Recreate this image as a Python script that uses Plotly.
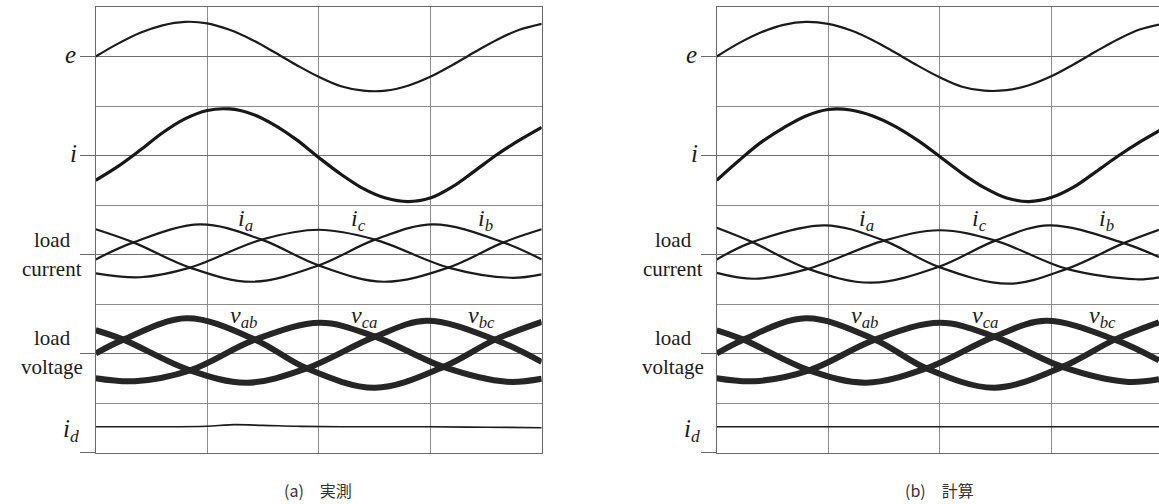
import plotly.graph_objects as go

# ---------------- data (x in grid divisions, y in grid divisions) ----------------
X_GRID = [0.0, 0.2, 0.4, 0.6, 0.8, 1.0, 1.2, 1.4, 1.6, 1.8, 2.0,
          2.2, 2.4, 2.6, 2.8, 3.0, 3.2, 3.4, 3.6, 3.8, 4.0]

# (a) measured
E_A = [0.0, 0.26, 0.48, 0.63, 0.70, 0.67, 0.54, 0.34, 0.09, -0.17, -0.41,
       -0.60, -0.69, -0.69, -0.59, -0.41, -0.17, 0.09, 0.34, 0.54, 0.66]
I_A = [-0.50, -0.22, 0.11, 0.46, 0.74, 0.91, 0.94, 0.84, 0.62, 0.32, -0.04,
       -0.38, -0.67, -0.86, -0.93, -0.86, -0.63, -0.31, 0.02, 0.31, 0.57]

IA_X_A = [0, 0.338, 0.94, 1.489, 2.00, 2.58, 3.163, 3.656, 4.0]
IA_Y_A = [-0.10, 0.245, 0.61, 0.30, -0.22, -0.55, -0.265, 0.245, 0.51]
IB_X_A = [0, 0.338, 0.846, 1.40, 2.00, 2.505, 3.03, 3.656, 4.0]
IB_Y_A = [0.51, 0.245, -0.265, -0.55, -0.22, 0.30, 0.61, 0.245, -0.10]
IC_X_A = [0, 0.40, 0.846, 1.489, 2.00, 2.505, 3.163, 3.72, 4.0]
IC_Y_A = [-0.38, -0.46, -0.265, 0.30, 0.50, 0.30, -0.265, -0.47, -0.40]

VAB_X_A = [0, 0.248, 0.816, 1.429, 1.892, 2.505, 3.118, 3.581, 4.0]
VAB_Y_A = [0.0, 0.28, 0.71, 0.28, -0.30, -0.69, -0.27, 0.28, 0.64]
VBC_X_A = [0, 0.248, 0.846, 1.354, 1.892, 2.505, 2.969, 3.581, 4.0]
VBC_Y_A = [0.47, 0.28, -0.34, -0.59, -0.30, 0.34, 0.66, 0.28, -0.17]
VCA_X_A = [0, 0.35, 0.846, 1.429, 2.012, 2.505, 3.118, 3.686, 4.0]
VCA_Y_A = [-0.50, -0.56, -0.34, 0.28, 0.62, 0.34, -0.27, -0.57, -0.51]

ID_X_A = [0, 0.5, 1.0, 1.2, 1.5, 1.8, 2.2, 3.0, 3.5, 4.0]
ID_Y_A = [0.52, 0.52, 0.53, 0.56, 0.55, 0.53, 0.52, 0.52, 0.51, 0.50]

# (b) calculated
E_B = [0.0, 0.27, 0.49, 0.64, 0.70, 0.66, 0.53, 0.33, 0.08, -0.18, -0.42,
       -0.61, -0.69, -0.68, -0.58, -0.40, -0.16, 0.10, 0.35, 0.55, 0.66]
I_B = [-0.50, -0.10, 0.27, 0.56, 0.80, 0.93, 0.92, 0.80, 0.59, 0.31, -0.02,
       -0.36, -0.65, -0.86, -0.93, -0.85, -0.64, -0.33, -0.01, 0.28, 0.54]

IA_X_B = [0, 0.32, 0.97, 1.50, 1.99, 2.62, 3.14, 3.65, 3.967]
IA_Y_B = [-0.10, 0.25, 0.59, 0.28, -0.25, -0.59, -0.29, 0.23, 0.50]
IB_X_B = [0, 0.32, 0.82, 1.39, 1.99, 2.50, 2.98, 3.65, 3.967]
IB_Y_B = [0.54, 0.25, -0.29, -0.57, -0.25, 0.28, 0.59, 0.23, -0.05]
IC_X_B = [0, 0.34, 0.82, 1.50, 2.00, 2.50, 3.14, 3.76, 3.967]
IC_Y_B = [-0.37, -0.49, -0.29, 0.28, 0.49, 0.28, -0.29, -0.50, -0.46]

VAB_X_B = [0, 0.24, 0.80, 1.42, 1.88, 2.49, 3.10, 3.57, 3.967]
VAB_Y_B = [0.0, 0.28, 0.71, 0.28, -0.30, -0.69, -0.27, 0.28, 0.63]
VBC_X_B = [0, 0.24, 0.83, 1.34, 1.88, 2.49, 2.95, 3.57, 3.967]
VBC_Y_B = [0.47, 0.28, -0.34, -0.59, -0.30, 0.34, 0.66, 0.28, -0.14]
VCA_X_B = [0, 0.34, 0.83, 1.42, 2.00, 2.49, 3.10, 3.67, 3.967]
VCA_Y_B = [-0.50, -0.56, -0.34, 0.28, 0.62, 0.34, -0.27, -0.57, -0.52]

ID_X_B = [0, 1.0, 2.0, 3.0, 3.967]
ID_Y_B = [0.52, 0.52, 0.52, 0.52, 0.52]

ROW_LABELS = ["e", "i", "load current", "load voltage", "i_d"]
CAPTIONS = ["(a)\u2003実測", "(b)\u2003計算"]

# ---------------- layout constants ----------------
W, H = 1159, 504
PX_DIV = 111.5          # px per horizontal division
LEFT_A, LEFT_B = 95.7, 716.7
TOP, BOTTOM = 7.0, 452.5
BASE = {"e": 8, "i": 6, "cur": 4, "volt": 2, "id": 0}
INK = "#1b1b1b"
GRID = "#8c8c8c"
FRAME = "#6a6a6a"
SERIF = "Liberation Serif"

fig = go.Figure()


def add(x, y, base, width, xa, ya, color=INK):
    fig.add_trace(go.Scatter(
        x=x, y=[v + base for v in y], mode="lines",
        line=dict(color=color, width=width, shape="spline", smoothing=1.0),
        xaxis=xa, yaxis=ya, hoverinfo="skip", showlegend=False))


panels = [
    ("x", "y", dict(E=E_A, I=I_A,
                    cur=[(IA_X_A, IA_Y_A), (IB_X_A, IB_Y_A), (IC_X_A, IC_Y_A)],
                    volt=[(VAB_X_A, VAB_Y_A), (VBC_X_A, VBC_Y_A), (VCA_X_A, VCA_Y_A)],
                    idd=(ID_X_A, ID_Y_A))),
    ("x2", "y2", dict(E=E_B, I=I_B,
                      cur=[(IA_X_B, IA_Y_B), (IB_X_B, IB_Y_B), (IC_X_B, IC_Y_B)],
                      volt=[(VAB_X_B, VAB_Y_B), (VBC_X_B, VBC_Y_B), (VCA_X_B, VCA_Y_B)],
                      idd=(ID_X_B, ID_Y_B))),
]

for xa, ya, d in panels:
    add(X_GRID, d["E"], BASE["e"], 2.2, xa, ya)
    add(X_GRID, d["I"], BASE["i"], 3.2, xa, ya, "#181818")
    for cx, cy in d["cur"]:
        add(cx, cy, BASE["cur"], 2.2, xa, ya)
    for vx, vy in d["volt"]:
        add(vx, vy, BASE["volt"], 6.0, xa, ya, "#262626")
    add(d["idd"][0], d["idd"][1], BASE["id"], 1.7, xa, ya)

# ---------------- axes ----------------
ydom = [1 - BOTTOM / H, 1 - TOP / H]


def xaxis(domain, rng, anchor):
    return dict(domain=domain, range=rng, anchor=anchor, showgrid=True, tick0=0, dtick=1,
                gridcolor=GRID, gridwidth=1, showline=True, mirror=True,
                linecolor=FRAME, linewidth=1, zeroline=False,
                showticklabels=False, ticks="", fixedrange=True)


def yaxis(anchor, mirror):
    return dict(domain=ydom, range=[0, 9], anchor=anchor,
                tickmode="array", tickvals=[0, 2, 4, 6, 8],
                ticks="outside", ticklen=15, tickcolor=FRAME, tickwidth=1,
                showticklabels=False, showgrid=True, gridcolor="#6f6f6f", gridwidth=1,
                minor=dict(tickmode="linear", tick0=0, dtick=1, showgrid=True,
                           gridcolor=GRID, gridwidth=1, ticks=""),
                showline=True, mirror=mirror, linecolor=FRAME, linewidth=1,
                zeroline=False, fixedrange=True)


rng_b = (W - LEFT_B) / PX_DIV
fig.update_layout(
    width=W, height=H, autosize=False,
    margin=dict(l=0, r=0, t=0, b=0, pad=0),
    paper_bgcolor="white", plot_bgcolor="white",
    font=dict(family=SERIF),
    xaxis=xaxis([LEFT_A / W, (LEFT_A + 4 * PX_DIV) / W], [0, 4], "y"),
    yaxis=yaxis("x", True),
    xaxis2=xaxis([LEFT_B / W, 1.0], [0, rng_b], "y2"),
    yaxis2=yaxis("x2", False),
)

# ---------------- labels (paper coordinates computed from panel geometry) ----------------
ann = []


def label(text, left, xdiv, ydiv, size, yanchor="middle"):
    px = (left + xdiv * PX_DIV) / W
    py = ydom[0] + ydiv / 9.0 * (ydom[1] - ydom[0])
    ann.append(dict(text=text, x=px, y=py, xref="paper", yref="paper", showarrow=False,
                    xanchor="center", yanchor=yanchor,
                    font=dict(family=SERIF, size=size, color=INK)))


for left in (LEFT_A, LEFT_B):
    label("<i>" + ROW_LABELS[0] + "</i>", left, -0.23, 8.05, 25)
    label("<i>" + ROW_LABELS[1] + "</i>", left, -0.20, 6.05, 25)
    label(ROW_LABELS[2].split()[0], left, -0.39, 4.02, 21, "bottom")
    label(ROW_LABELS[2].split()[1], left, -0.39, 4.0, 21, "top")
    label(ROW_LABELS[3].split()[0], left, -0.39, 2.04, 21, "bottom")
    label(ROW_LABELS[3].split()[1], left, -0.39, 2.02, 21, "top")
    label("<i>i</i><sub><i>d</i></sub>", left, -0.22, 0.45, 25)
    label("<i>i</i><sub><i>a</i></sub>", left, 1.34, 4.70, 24)
    label("<i>i</i><sub><i>c</i></sub>", left, 2.36, 4.70, 24)
    label("<i>i</i><sub><i>b</i></sub>", left, 3.50, 4.70, 24)
    label("<i>v</i><sub><i>ab</i></sub>", left, 1.33, 2.74, 24)
    label("<i>v</i><sub><i>ca</i></sub>", left, 2.41, 2.74, 24)
    label("<i>v</i><sub><i>bc</i></sub>", left, 3.46, 2.74, 24)

for cap, cx in zip(CAPTIONS, (318, 939)):
    ann.append(dict(text=cap, x=cx / W, y=1 - 490 / H, xref="paper", yref="paper",
                    showarrow=False, xanchor="center", yanchor="middle",
                    font=dict(family="Noto Sans CJK JP", size=16, color="#333333")))

fig.update_layout(annotations=ann)
fig.write_html("out.html")
